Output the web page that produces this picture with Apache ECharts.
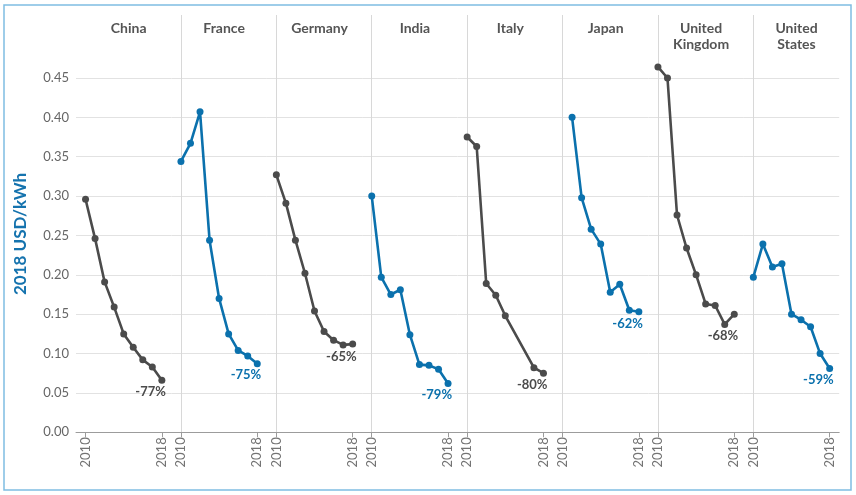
<!DOCTYPE html>
<html>
<head>
<meta charset="utf-8">
<script src="https://cdn.jsdelivr.net/npm/echarts@6/dist/echarts.min.js"></script>
<style>
  html, body { margin: 0; padding: 0; background: #fff; }
  #chart { width: 856px; height: 495px; }
</style>
</head>
<body>
<div id="chart"></div>
<script>
// ---- data ----
const years = [2010, 2011, 2012, 2013, 2014, 2015, 2016, 2017, 2018];
const countries = ['China', 'France', 'Germany', 'India', 'Italy', 'Japan', 'United\nKingdom', 'United\nStates'];
const china   = [0.296, 0.246, 0.191, 0.159, 0.125, 0.108, 0.092, 0.083, 0.066];
const france  = [0.344, 0.367, 0.407, 0.244, 0.170, 0.125, 0.104, 0.097, 0.087];
const germany = [0.327, 0.291, 0.244, 0.202, 0.154, 0.128, 0.117, 0.111, 0.112];
const india   = [0.300, 0.197, 0.175, 0.181, 0.124, 0.086, 0.085, 0.080, 0.062];
const italy   = [0.375, 0.363, 0.189, 0.174, 0.148, null, null, 0.082, 0.075];
const japan   = [null, 0.400, 0.298, 0.258, 0.239, 0.178, 0.188, 0.155, 0.153];
const uk      = [0.464, 0.450, 0.276, 0.234, 0.200, 0.163, 0.161, 0.137, 0.150];
const us      = [0.197, 0.239, 0.210, 0.214, 0.150, 0.143, 0.134, 0.100, 0.081];
const changeLabels = ['-77%', '-75%', '-65%', '-79%', '-80%', '-62%', '-68%', '-59%'];
const yTickLabels = ['0.00', '0.05', '0.10', '0.15', '0.20', '0.25', '0.30', '0.35', '0.40', '0.45'];
const xTickLabels = [2010, 2018];
const seriesValues = [china, france, germany, india, italy, japan, uk, us];

// ---- layout / style ----
const GREY = '#4b4b4b', BLUE = '#0b71ad';
const lineColors = [GREY, BLUE, GREY, BLUE, GREY, BLUE, GREY, BLUE];
const plotLeft = 76, panelW = 95.4, plotTop = 15, plotH = 417.3, yMax = 0.53;
const FONT = 'Lato, "Open Sans", sans-serif';
const gridCol = '#e2e2e2', divCol = '#d8d8d8', clear = 'rgba(0,0,0,0)';
const pxPerUnit = plotH / yMax;

const grids = [], xAxes = [], yAxes = [], series = [], titles = [];
countries.forEach((name, i) => {
  const left = plotLeft + i * panelW;
  grids.push({ left: left, top: plotTop, width: panelW, height: plotH });
  const xCols = [];
  for (let k = 0; k <= 10; k++) xCols.push(clear);
  xCols[0] = i === 0 ? clear : divCol;
  xCols[10] = i === countries.length - 1 ? clear : divCol;
  xAxes.push({
    gridIndex: i, type: 'value', min: 2009, max: 2019, interval: 1,
    axisLine: { show: true, lineStyle: { color: '#9c9c9c', width: 1 } },
    axisTick: { show: true, customValues: xTickLabels, length: 5, lineStyle: { color: '#9c9c9c' } },
    axisLabel: { show: true, customValues: xTickLabels, rotate: 90, margin: 5,
      color: '#747474', fontSize: 13, fontFamily: FONT, formatter: v => String(v) },
    splitLine: { show: true, lineStyle: { color: xCols, width: 1 } }
  });
  const yCols = [];
  for (let k = 0; k < 12; k++) yCols.push(k < yTickLabels.length ? gridCol : clear);
  yAxes.push({
    gridIndex: i, type: 'value', min: 0, max: yMax, interval: 0.05,
    axisLine: { show: false }, axisTick: { show: false },
    axisLabel: { show: i === 0, margin: 7, color: '#666', fontSize: 13, fontFamily: FONT,
      showMaxLabel: false,
      formatter: v => { const s = v.toFixed(2); return yTickLabels.indexOf(s) >= 0 ? s : ''; } },
    splitLine: { show: true, lineStyle: { color: yCols, width: 1 } }
  });
  const vals = seriesValues[i];
  const nonNull = vals.filter(v => v != null);
  const last = nonNull[nonNull.length - 1], prev = nonNull[nonNull.length - 2];
  const dy = (last - Math.min(last, prev)) * pxPerUnit;
  const data = years.map((y, k) => {
    const item = { value: [y, vals[k]] };
    if (k === years.length - 1) {
      item.label = {
        show: true, formatter: changeLabels[i], position: [7.5, 8.5], align: 'right', verticalAlign: 'top',
        offset: [0, dy], color: lineColors[i], fontWeight: 'bold', fontSize: 13, fontFamily: FONT
      };
    }
    return item;
  });
  series.push({
    type: 'line', xAxisIndex: i, yAxisIndex: i, data: data, connectNulls: true,
    symbol: 'circle', symbolSize: 7, showAllSymbol: true,
    itemStyle: { color: lineColors[i] },
    lineStyle: { color: lineColors[i], width: 2.6 },
    emphasis: { disabled: true }, animation: false
  });
  titles.push({
    text: name, left: left + panelW / 2, top: 15, textAlign: 'center',
    textStyle: { color: '#555', fontSize: 14, fontWeight: 'bold', fontFamily: FONT, lineHeight: 16 }
  });
});

const chart = echarts.init(document.getElementById('chart'), null, { renderer: 'canvas' });
chart.setOption({
  backgroundColor: '#fff',
  animation: false,
  title: titles,
  grid: grids,
  xAxis: xAxes,
  yAxis: yAxes,
  series: series,
  graphic: [
    { type: 'rect', shape: { x: 4, y: 5, width: 847, height: 485 },
      style: { fill: 'none', stroke: '#7fbde2', lineWidth: 1.5 }, silent: true, z: 100 },
    { type: 'text', x: 21, y: 234, rotation: Math.PI / 2,
      style: { text: '2018 USD/kWh', fill: '#1573ae', font: 'bold 17px ' + FONT, align: 'center', verticalAlign: 'middle' } }
  ]
});
</script>
</body>
</html>
